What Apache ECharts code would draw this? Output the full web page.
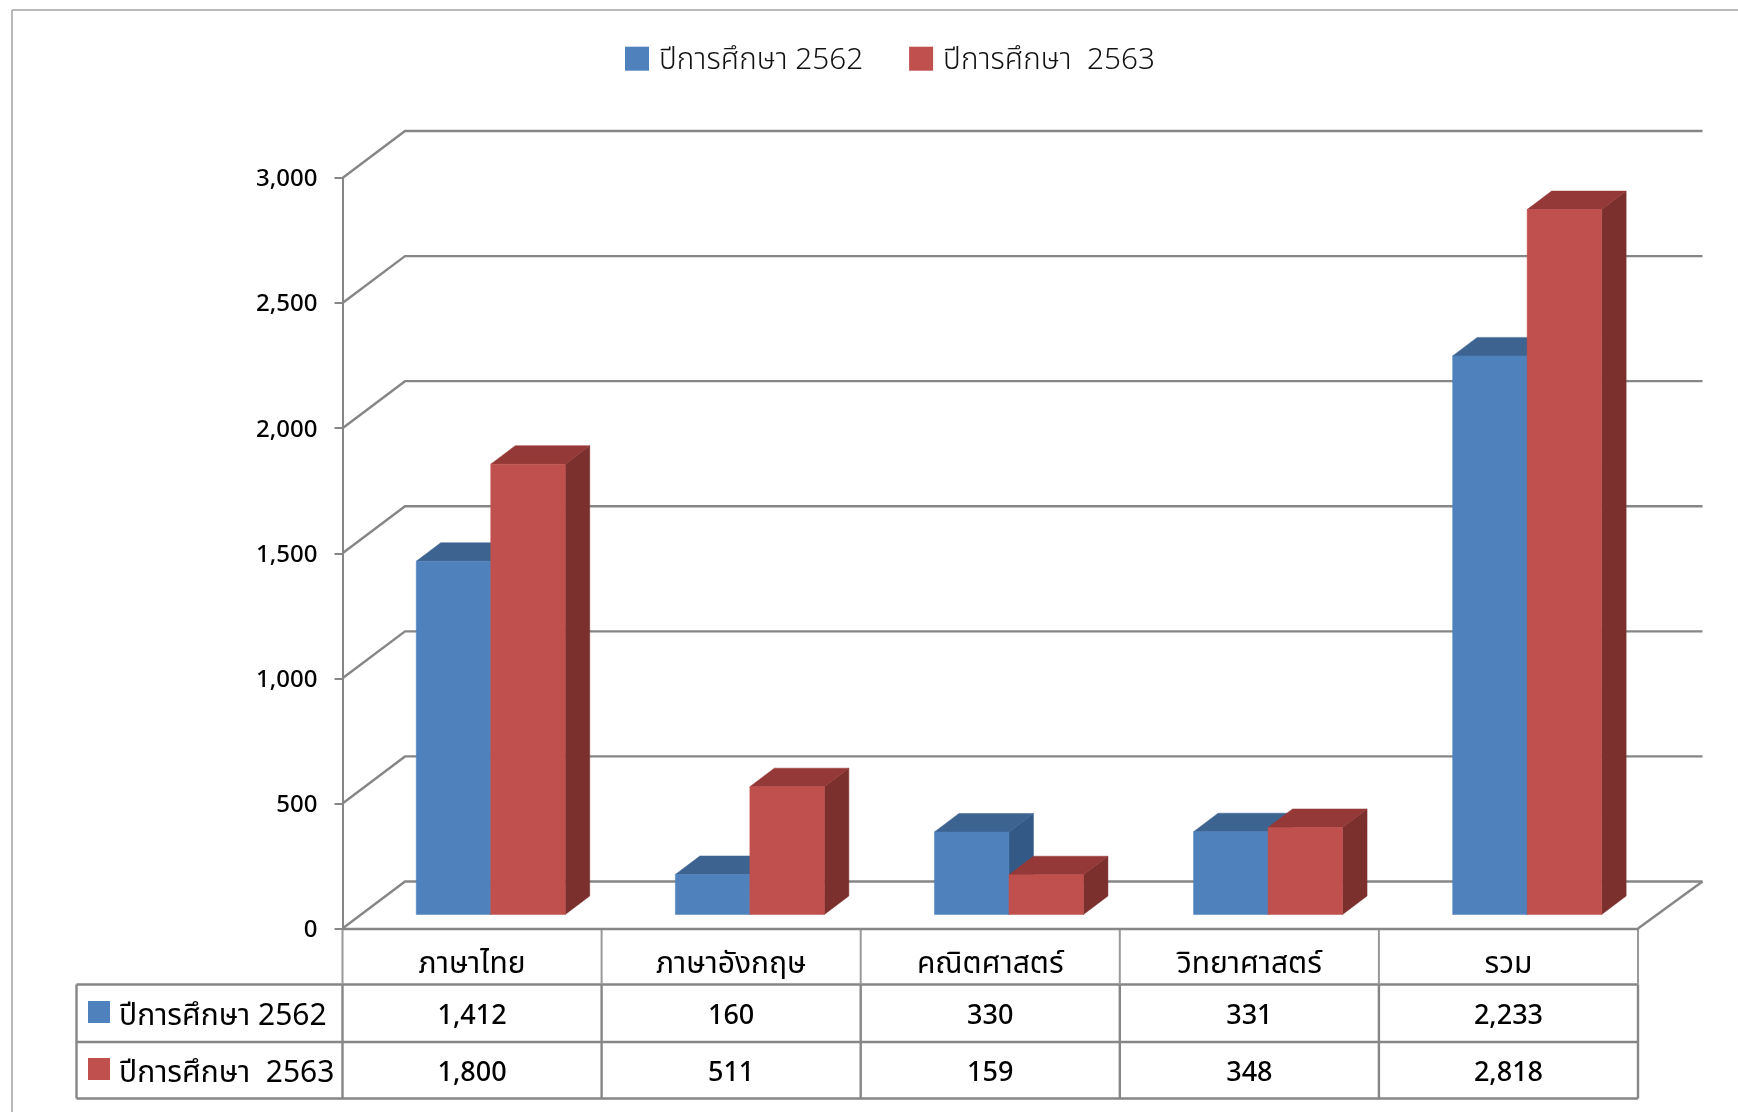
<!DOCTYPE html>
<html>
<head>
<meta charset="utf-8">
<style>
  html, body { margin: 0; padding: 0; background: #fff; }
  #chart { width: 1738px; height: 1112px; }
</style>
<script src="https://cdn.jsdelivr.net/npm/echarts@6/dist/echarts.min.js"></script>
</head>
<body>
<div id="chart"></div>
<script>
// chart data
const categories = ['ภาษาไทย', 'ภาษาอังกฤษ', 'คณิตศาสตร์', 'วิทยาศาสตร์', 'รวม'];
const seriesNames = ['ปีการศึกษา 2562', 'ปีการศึกษา  2563'];
const values2562 = [1412, 160, 330, 331, 2233];
const values2563 = [1800, 511, 159, 348, 2818];
const yTicks = [0, 500, 1000, 1500, 2000, 2500, 3000];

const FONT = '"Noto Sans Thai", "Noto Sans", Roboto, sans-serif';
const LINE = '#868686';

// front plane of the 3D box
const plot = { left: 342.5, right: 1638, top: 178, bottom: 928.5 };
// depth of the back wall
const wallDx = 62.5;
const wallDy = 47;
// bars sit part way into the floor
const barDx = 18.7;
const barDy = 14;
const barDepthX = 24.5;
const barDepthY = 18.5;
const barRatio = 0.2875;

const blue = { front: '#4F81BD', top: '#3D6390', side: '#335A86' };
const red = { front: '#C0504D', top: '#943937', side: '#7B302E' };

// table rows
const rowLines = [984.5, 1042, 1098.5];
const rowCenters = [1014, 1071];
const textShift = 4.5;
const tableLeft = 76.5;

const poly = (points, color) => ({
  type: 'polygon',
  shape: { points },
  style: { fill: color, stroke: color, lineWidth: 0.5 },
  silent: true,
});

// one 3D column, side = -1 left of the group centre, 1 right of it
function renderBar(side, colors) {
  return (params, api) => {
    const cat = api.value(0);
    const top = api.coord([cat, api.value(1)]);
    const base = api.coord([cat, 0]);
    const w = api.size([1, 0])[0] * barRatio;
    const x0 = top[0] + barDx + (side < 0 ? -w : 0);
    const x1 = x0 + w;
    const yT = top[1] - barDy;
    const yB = base[1] - barDy;
    const dx = barDepthX;
    const dy = barDepthY;
    return {
      type: 'group',
      children: [
        poly([[x1, yT], [x1 + dx, yT - dy], [x1 + dx, yB - dy], [x1, yB]], colors.side),
        poly([[x0, yT], [x0 + dx, yT - dy], [x1 + dx, yT - dy], [x1, yT]], colors.top),
        poly([[x0, yT], [x1, yT], [x1, yB], [x0, yB]], colors.front),
      ],
    };
  };
}

// gridline on the side wall and the back wall
function renderWallLine(params, api) {
  const rect = params.coordSys;
  const y = api.coord([0, api.value(0)])[1];
  return {
    type: 'polyline',
    shape: {
      points: [
        [rect.x, y],
        [rect.x + wallDx, y - wallDy],
        [rect.x + rect.width + wallDx + 2, y - wallDy],
      ],
    },
    style: { stroke: LINE, lineWidth: 2.4, fill: null },
    silent: true,
  };
}

// value cell of the data table, x comes from the category axis
function renderCell(rowY) {
  return (params, api) => ({
    type: 'text',
    x: api.coord([api.value(0), 0])[0],
    y: rowY + textShift,
    style: {
      text: api.value(1).toLocaleString('en-US'),
      font: '500 27px ' + FONT,
      fill: '#000',
      textAlign: 'center',
      textVerticalAlign: 'middle',
    },
    silent: true,
  });
}

const line = (x1, y1, x2, y2, color, width) => ({
  type: 'line',
  shape: { x1, y1, x2, y2 },
  style: { stroke: color || LINE, lineWidth: width || 2.4 },
  silent: true,
});

// frame of the picture, table lines and the row headers
const graphics = [
  line(12, 10, 1738, 10, '#a3a3a3', 1.5),
  line(12, 10, 12, 1112, '#a3a3a3', 1.5),
  // floor, right edge
  line(plot.right, plot.bottom, plot.right + wallDx + 2, plot.bottom - wallDy),
];
rowLines.forEach((y) => graphics.push(line(tableLeft, y, plot.right, y)));
graphics.push(line(tableLeft, rowLines[0], tableLeft, rowLines[2]));
const colWidth = (plot.right - plot.left) / categories.length;
for (let i = 0; i <= categories.length; i++) {
  const x = plot.left + colWidth * i;
  graphics.push(line(x, plot.bottom, x, rowLines[0], '#999', 2));
  graphics.push(line(x, rowLines[0], x, rowLines[2]));
}
seriesNames.forEach((name, i) => {
  graphics.push({
    type: 'rect',
    shape: { x: 88, y: rowCenters[i] - 13, width: 22, height: 22 },
    style: { fill: i === 0 ? blue.front : red.front },
    silent: true,
  });
  graphics.push({
    type: 'text',
    x: 119,
    y: rowCenters[i] + textShift,
    style: {
      text: name,
      font: '30px ' + FONT,
      fill: '#000',
      textAlign: 'left',
      textVerticalAlign: 'middle',
    },
    silent: true,
  });
});

const chart = echarts.init(document.getElementById('chart'), null, { renderer: 'canvas' });
chart.setOption({
  animation: false,
  backgroundColor: '#fff',
  textStyle: { fontFamily: FONT },
  legend: {
    left: 625,
    top: 46.7,
    padding: 0,
    icon: 'rect',
    itemWidth: 24,
    itemHeight: 24,
    itemGap: 46,
    selectedMode: false,
    data: seriesNames,
    formatter: (name) => '{a|' + name + '}',
    textStyle: {
      rich: {
        a: { fontSize: 29.7, fontWeight: 300, color: '#111', fontFamily: FONT, padding: [8, 0, 0, 5] },
      },
    },
  },
  grid: {
    left: plot.left,
    top: plot.top,
    width: plot.right - plot.left,
    height: plot.bottom - plot.top,
  },
  xAxis: {
    type: 'category',
    data: categories,
    axisLine: { lineStyle: { color: LINE, width: 2.4 } },
    axisTick: { show: false },
    axisLabel: { color: '#000', fontSize: 30, margin: 23, interval: 0, fontFamily: FONT },
  },
  yAxis: {
    type: 'value',
    min: 0,
    max: 3000,
    interval: 500,
    splitLine: { show: false },
    axisLine: { show: true, lineStyle: { color: LINE, width: 2 } },
    axisTick: { show: true, length: 8, lineStyle: { color: LINE, width: 2 } },
    axisLabel: {
      color: '#000',
      fontSize: 24,
      fontWeight: 500,
      margin: 25,
      verticalAlign: 'top',
      lineHeight: 7,
      fontFamily: FONT,
      formatter: (v) => v.toLocaleString('en-US'),
    },
  },
  series: [
    {
      type: 'custom',
      name: 'wall',
      clip: false,
      z: 1,
      data: yTicks.map((t) => [t]),
      encode: { y: 0 },
      renderItem: renderWallLine,
    },
    {
      type: 'custom',
      name: seriesNames[0],
      clip: false,
      z: 2,
      itemStyle: { color: blue.front },
      data: values2562.map((v, i) => [i, v]),
      encode: { x: 0, y: 1 },
      renderItem: renderBar(-1, blue),
    },
    {
      type: 'custom',
      name: seriesNames[1],
      clip: false,
      z: 3,
      itemStyle: { color: red.front },
      data: values2563.map((v, i) => [i, v]),
      encode: { x: 0, y: 1 },
      renderItem: renderBar(1, red),
    },
    {
      type: 'custom',
      name: 'row2562',
      clip: false,
      z: 4,
      data: values2562.map((v, i) => [i, v]),
      encode: { x: 0, y: 1 },
      renderItem: renderCell(rowCenters[0]),
    },
    {
      type: 'custom',
      name: 'row2563',
      clip: false,
      z: 4,
      data: values2563.map((v, i) => [i, v]),
      encode: { x: 0, y: 1 },
      renderItem: renderCell(rowCenters[1]),
    },
  ],
  graphic: graphics,
});
</script>
</body>
</html>
